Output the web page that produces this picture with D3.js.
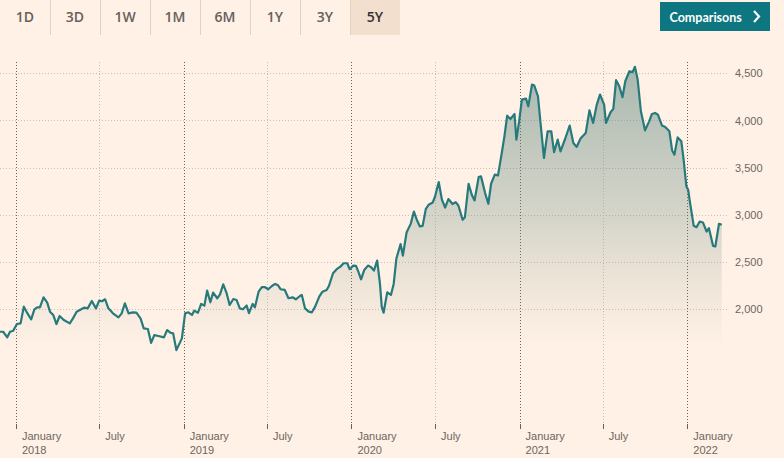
<!DOCTYPE html>
<html>
<head>
<meta charset="utf-8">
<script src="https://cdn.jsdelivr.net/npm/d3@7"></script>
<style>
  body { margin: 0; background: #fff1e5; }
  svg { display: block; }
</style>
</head>
<body>
<svg id="chart" width="784" height="458"></svg>
<script>
// tabs and axis labels
const tabLabels = ["1D", "3D", "1W", "1M", "6M", "1Y", "3Y", "5Y"];
const activeTab = "5Y";
const yTicks = [2000, 2500, 3000, 3500, 4000, 4500];
const xTicks = ["2018-01-01", "2018-07-01", "2019-01-01", "2019-07-01", "2020-01-01",
                "2020-07-01", "2021-01-01", "2021-07-01", "2022-01-01"];

// weekly closes
const dates = [
  "2017-11-27","2017-12-04","2017-12-13","2017-12-19","2017-12-26","2018-01-03","2018-01-11","2018-01-18",
  "2018-01-25","2018-02-03","2018-02-10","2018-02-16","2018-02-22","2018-03-02","2018-03-10","2018-03-16",
  "2018-03-23","2018-03-30","2018-04-06","2018-04-15","2018-04-28","2018-05-05","2018-05-13","2018-05-20",
  "2018-05-29","2018-06-06","2018-06-15","2018-06-24","2018-07-01","2018-07-07","2018-07-14","2018-07-21",
  "2018-07-31","2018-08-12","2018-08-19","2018-08-26","2018-09-03","2018-09-12","2018-09-20","2018-09-29",
  "2018-10-06","2018-10-15","2018-10-22","2018-10-29","2018-11-07","2018-11-19","2018-11-26","2018-12-03",
  "2018-12-09","2018-12-16","2018-12-23","2018-12-28","2019-01-04","2019-01-11","2019-01-19","2019-01-24",
  "2019-02-01","2019-02-08","2019-02-15","2019-02-21","2019-02-28","2019-03-06","2019-03-15","2019-03-21",
  "2019-03-28","2019-04-04","2019-04-11","2019-04-19","2019-04-26","2019-05-03","2019-05-10","2019-05-18",
  "2019-05-23","2019-05-31","2019-06-05","2019-06-13","2019-06-20","2019-06-27","2019-07-04","2019-07-12",
  "2019-07-19","2019-07-25","2019-07-31","2019-08-09","2019-08-17","2019-08-26","2019-09-02","2019-09-11",
  "2019-09-15","2019-09-22","2019-09-30","2019-10-07","2019-10-14","2019-10-23","2019-10-30","2019-11-08",
  "2019-11-13","2019-11-22","2019-11-30","2019-12-08","2019-12-15","2019-12-23","2019-12-28","2020-01-05",
  "2020-01-11","2020-01-16","2020-01-22","2020-01-29","2020-02-06","2020-02-13","2020-02-19","2020-02-26",
  "2020-03-03","2020-03-07","2020-03-11","2020-03-19","2020-03-27","2020-04-02","2020-04-08","2020-04-17",
  "2020-04-22","2020-04-30","2020-05-09","2020-05-16","2020-05-23","2020-05-29","2020-06-04","2020-06-11",
  "2020-06-17","2020-06-26","2020-07-01","2020-07-09","2020-07-16","2020-07-23","2020-07-30","2020-08-08",
  "2020-08-15","2020-08-21","2020-08-30","2020-09-04","2020-09-12","2020-09-19","2020-09-25","2020-10-04",
  "2020-10-09","2020-10-18","2020-10-25","2020-10-31","2020-11-08","2020-11-15","2020-11-22","2020-11-29",
  "2020-12-05","2020-12-12","2020-12-21","2020-12-25","2020-12-31","2021-01-06","2021-01-15","2021-01-20",
  "2021-01-28","2021-02-02","2021-02-10","2021-02-17","2021-02-23","2021-03-03","2021-03-11","2021-03-17",
  "2021-03-25","2021-03-31","2021-04-10","2021-04-20","2021-04-28","2021-05-05","2021-05-14","2021-05-25",
  "2021-06-02","2021-06-10","2021-06-18","2021-06-25","2021-07-04","2021-07-08","2021-07-18","2021-07-24",
  "2021-07-30","2021-08-06","2021-08-13","2021-08-19","2021-08-28","2021-09-04","2021-09-09","2021-09-15",
  "2021-09-22","2021-10-01","2021-10-10","2021-10-16","2021-10-23","2021-10-29","2021-11-07","2021-11-14",
  "2021-11-23","2021-11-29","2021-12-04","2021-12-11","2021-12-19","2021-12-24","2021-12-30","2022-01-03",
  "2022-01-06","2022-01-15","2022-01-21","2022-01-28","2022-02-04","2022-02-12","2022-02-17","2022-02-26",
  "2022-03-03","2022-03-11","2022-03-17"
];
const values = [
  1762,1762,1703,1762,1773,1844,1851,2028,
  1964,1894,2000,2021,2021,2127,2070,1975,
  1940,1844,1929,1887,1851,1904,1975,1993,
  2017,2010,2088,2010,2092,2085,2106,2010,
  1957,1915,1957,2064,1957,1968,1964,1904,
  1798,1791,1645,1727,1717,1703,1780,1752,
  1745,1568,1639,1692,1957,1968,1940,1986,
  1964,2057,2039,2198,2074,2177,2117,2159,
  2265,2177,2046,2109,2099,2010,2000,2040,
  1960,2057,2021,2187,2234,2234,2212,2247,
  2269,2255,2212,2205,2117,2127,2106,2141,
  2152,2010,1975,1968,2028,2134,2187,2205,
  2247,2382,2425,2452,2488,2488,2425,2463,
  2460,2399,2318,2417,2463,2446,2410,2516,
  2276,2028,1964,2180,2152,2269,2541,2690,
  2569,2813,2905,3036,2940,2877,2884,3065,
  3107,3132,3195,3348,3160,3078,3168,3115,
  3136,3097,2948,2976,3330,3213,3153,3401,
  3408,3231,3118,3330,3426,3418,3620,3832,
  4051,4016,4069,3797,3991,4221,4232,4150,
  4381,4370,4257,3903,3603,3885,3885,3665,
  3797,3673,3804,3946,3762,3720,3811,3868,
  4108,3974,4169,4275,4169,3974,4087,4123,
  4427,4363,4246,4416,4522,4512,4569,4434,
  4098,3896,3991,4069,4080,4062,3946,3932,
  3885,3683,3638,3821,3779,3585,3302,3265,
  3160,2884,2870,2930,2920,2824,2860,2672,
  2665,2906,2895
];

const parseDate = d3.timeParse("%Y-%m-%d");
const data = dates.map((d, i) => ({ date: parseDate(d), value: values[i] }));

const svg = d3.select("#chart");
const plotTop = 62, plotBottom = 424, gridRight = 728;

// scales
const x = d3.scaleTime()
    .domain([parseDate("2018-01-01"), parseDate("2022-01-01")])
    .range([16, 687.3]);
const y = d3.scaleLinear()
    .domain([2000, 4500])
    .range([309.3, 73.3]);

// tabs
const tabs = svg.append("g");
tabs.append("rect")
    .attr("x", tabLabels.indexOf(activeTab) * 50).attr("y", 0)
    .attr("width", 50).attr("height", 35)
    .attr("fill", "#f2dfce");
tabs.selectAll("line")
    .data(tabLabels.slice(1))
    .enter().append("line")
    .attr("x1", (d, i) => (i + 1) * 50 + 0.5).attr("x2", (d, i) => (i + 1) * 50 + 0.5)
    .attr("y1", 0).attr("y2", 35)
    .attr("stroke", "#e3d1c0").attr("stroke-width", 1);
tabs.selectAll("text")
    .data(tabLabels)
    .enter().append("text")
    .attr("x", (d, i) => i * 50 + 25).attr("y", 22)
    .attr("text-anchor", "middle")
    .attr("font-family", "'Open Sans', sans-serif")
    .attr("font-weight", 600)
    .attr("font-size", 14)
    .attr("fill", d => d === activeTab ? "#33302e" : "#66605c")
    .text(d => d);

// comparisons button
svg.append("rect")
    .attr("x", 660).attr("y", 2).attr("width", 110).attr("height", 29)
    .attr("fill", "#0d7680");
svg.append("text")
    .attr("x", 669.5).attr("y", 21.5)
    .attr("font-family", "Lato, sans-serif").attr("font-weight", 700)
    .attr("font-size", 12.5).attr("fill", "#ffffff")
    .text("Comparisons");
svg.append("path")
    .attr("d", "M754,11 L759,16.5 L754,22")
    .attr("fill", "none").attr("stroke", "#ffffff").attr("stroke-width", 2.2);

// horizontal grid
svg.append("g").selectAll("line")
    .data(yTicks)
    .enter().append("line")
    .attr("x1", 0).attr("x2", gridRight)
    .attr("y1", d => Math.round(y(d)) + 0.5).attr("y2", d => Math.round(y(d)) + 0.5)
    .attr("stroke", "#cbbfb4").attr("stroke-dasharray", "1,2");

// y labels
svg.append("g").selectAll("text")
    .data(yTicks)
    .enter().append("text")
    .attr("x", 735).attr("y", d => y(d) + 4)
    .attr("font-family", "'Liberation Sans', Arial, sans-serif")
    .attr("font-size", 11).attr("fill", "#6d6661")
    .text(d => d3.format(",")(d));

// vertical grid and ticks
const xg = svg.append("g");
xg.selectAll("line.grid")
    .data(xTicks)
    .enter().append("line")
    .attr("class", "grid")
    .attr("x1", d => Math.round(x(parseDate(d))) + 0.5).attr("x2", d => Math.round(x(parseDate(d))) + 0.5)
    .attr("y1", plotTop).attr("y2", plotBottom)
    .attr("stroke", d => d.endsWith("01-01") ? "#66605c" : "#cbbfb4")
    .attr("stroke-dasharray", "1,2");
xg.selectAll("line.tick")
    .data(xTicks)
    .enter().append("line")
    .attr("class", "tick")
    .attr("x1", d => Math.round(x(parseDate(d))) + 0.5).attr("x2", d => Math.round(x(parseDate(d))) + 0.5)
    .attr("y1", plotBottom).attr("y2", plotBottom + 5)
    .attr("stroke", "#66605c");
const labels = xg.selectAll("text")
    .data(xTicks)
    .enter().append("text")
    .attr("x", d => x(parseDate(d)) + 6)
    .attr("font-family", "'Liberation Sans', Arial, sans-serif")
    .attr("font-size", 11).attr("fill", "#6d6661");
labels.append("tspan").attr("y", 440)
    .text(d => d3.timeFormat("%B")(parseDate(d)));
labels.filter(d => d.endsWith("01-01"))
    .append("tspan").attr("x", d => x(parseDate(d)) + 6).attr("y", 454)
    .text(d => d3.timeFormat("%Y")(parseDate(d)));

// area fill
const grad = svg.append("defs").append("linearGradient")
    .attr("id", "fade").attr("gradientUnits", "userSpaceOnUse")
    .attr("x1", 0).attr("x2", 0).attr("y1", 66).attr("y2", 350);
grad.append("stop").attr("offset", 0).attr("stop-color", "#4f7f78").attr("stop-opacity", 0.5);
grad.append("stop").attr("offset", 0.55).attr("stop-color", "#6f8f88").attr("stop-opacity", 0.28);
grad.append("stop").attr("offset", 1).attr("stop-color", "#a7a593").attr("stop-opacity", 0);

svg.append("path")
    .datum(data)
    .attr("fill", "url(#fade)")
    .attr("d", d3.area().x(d => x(d.date)).y0(350).y1(d => y(d.value)));

svg.append("path")
    .datum(data)
    .attr("fill", "none")
    .attr("stroke", "#277a7c")
    .attr("stroke-width", 2.2)
    .attr("stroke-linejoin", "round")
    .attr("d", d3.line().x(d => x(d.date)).y(d => y(d.value)));
</script>
</body>
</html>
